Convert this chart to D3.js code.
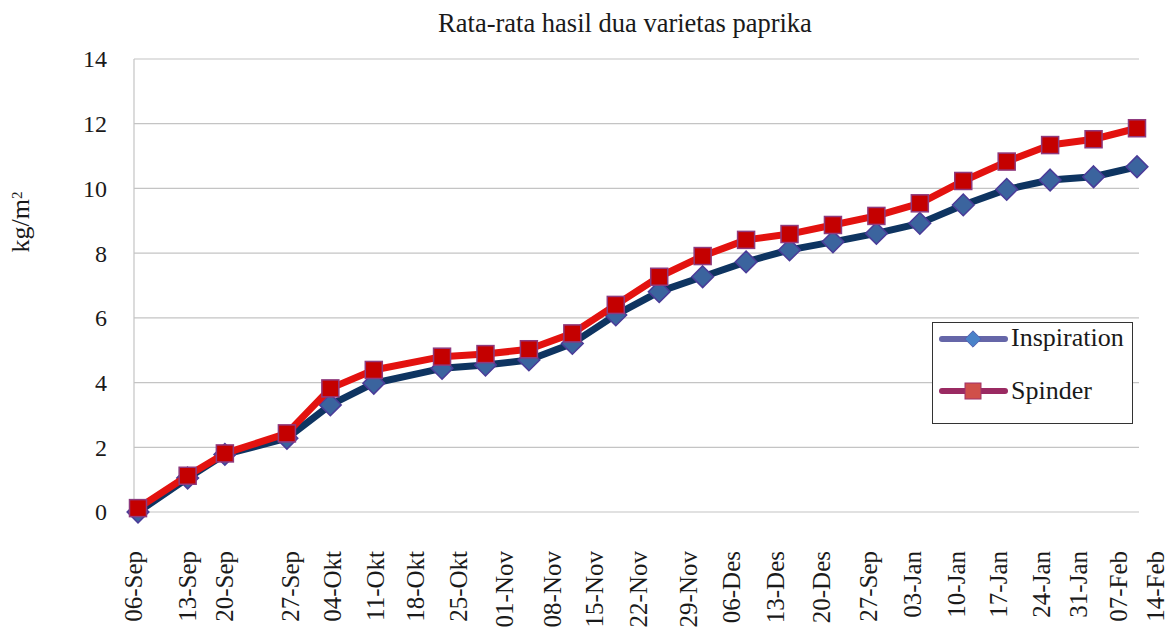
<!DOCTYPE html>
<html>
<head>
<meta charset="utf-8">
<script src="https://cdn.jsdelivr.net/npm/d3@7"></script>
<style>
  body { margin: 0; background: #fff; }
</style>
</head>
<body>
<svg id="chart" width="1171" height="634" font-family="'Liberation Serif', 'Times New Roman', Times, serif"></svg>
<script>
// days after 06-Sep for each harvest
const harvestDays = [0, 8, 14, 24, 31, 38, 49, 56, 63, 70, 77, 84, 91, 98, 105, 112, 119, 126, 133, 140, 147, 154, 161]
const inspiration = [0.0, 1.05, 1.78, 2.28, 3.31, 3.98, 4.44, 4.54, 4.70, 5.21, 6.09, 6.81, 7.27, 7.73, 8.10, 8.35, 8.61, 8.92, 9.49, 9.97, 10.26, 10.36, 10.67]
const spinder = [0.12, 1.12, 1.81, 2.43, 3.82, 4.39, 4.80, 4.88, 5.03, 5.52, 6.40, 7.27, 7.91, 8.41, 8.59, 8.87, 9.15, 9.54, 10.23, 10.83, 11.34, 11.52, 11.86]

// category labels as they sit under the chart (position in days)
const tickLabels = ["06-Sep", "13-Sep", "20-Sep", "27-Sep", "04-Okt", "11-Okt", "18-Okt", "25-Okt", "01-Nov", "08-Nov", "15-Nov", "22-Nov", "29-Nov", "06-Des", "13-Des", "20-Des", "27-Sep", "03-Jan", "10-Jan", "17-Jan", "24-Jan", "31-Jan", "07-Feb", "14-Feb"]
const tickDays = [-0.8, 7.9, 13.9, 24.5, 31.3, 38.2, 44.7, 51.6, 59.0, 66.8, 73.5, 80.6, 88.7, 95.6, 102.7, 110.1, 117.7, 124.7, 131.8, 138.7, 145.5, 151.6, 157.9, 164.0]
const yTicks = [0, 2, 4, 6, 8, 10, 12, 14]

const svg = d3.select("#chart")
const plot = {left: 134, right: 1139, top: 59, bottom: 512}

const x = d3.scaleLinear().domain([0, 161]).range([138, 1137])
const y = d3.scaleLinear().domain([0, 14]).range([plot.bottom, plot.top])

// title
svg.append("text")
  .attr("x", 625).attr("y", 32)
  .attr("text-anchor", "middle")
  .style("font-size", "26.5px")
  .style("fill", "#1a1a1a")
  .text("Rata-rata hasil dua varietas paprika")

// gridlines
svg.append("g")
  .selectAll("line")
  .data(yTicks)
  .join("line")
  .attr("x1", plot.left).attr("x2", plot.right)
  .attr("y1", d => y(d)).attr("y2", d => y(d))
  .style("stroke", "#c4c4c4")
  .style("stroke-width", 1.2)

svg.append("line")
  .attr("x1", plot.left).attr("x2", plot.left)
  .attr("y1", plot.top).attr("y2", plot.bottom)
  .style("stroke", "#c4c4c4")
  .style("stroke-width", 1.2)

// y tick labels
svg.append("g")
  .selectAll("text")
  .data(yTicks)
  .join("text")
  .attr("x", 107).attr("y", d => y(d))
  .attr("dy", "0.35em")
  .attr("text-anchor", "end")
  .style("font-size", "24px")
  .style("fill", "#1a1a1a")
  .text(d => d)

// y axis title
const yt = svg.append("text")
  .attr("transform", "translate(29,222) rotate(-90)")
  .attr("text-anchor", "middle")
  .style("font-size", "26px")
  .style("fill", "#1a1a1a")
yt.append("tspan").text("kg/m")
yt.append("tspan").attr("dy", "-0.5em").style("font-size", "15px").text("2")

// x labels
svg.append("g")
  .selectAll("text")
  .data(tickLabels)
  .join("text")
  .attr("transform", (d, i) => `translate(${x(tickDays[i])},551) rotate(-90)`)
  .attr("dy", "0.35em")
  .attr("text-anchor", "end")
  .style("font-size", "25px")
  .style("fill", "#1a1a1a")
  .text(d => d)

function series(vals, lineColor) {
  const pts = harvestDays.map((d, i) => [d, vals[i]])
  svg.append("path")
    .datum(pts)
    .attr("d", d3.line().x(d => x(d[0])).y(d => y(d[1])))
    .style("fill", "none")
    .style("stroke", lineColor)
    .style("stroke-width", 7)
    .style("stroke-linejoin", "round")
  return pts
}

const bluePts = series(inspiration, "#0e3461")
svg.append("g")
  .selectAll("path")
  .data(bluePts)
  .join("path")
  .attr("transform", d => `translate(${x(d[0])},${y(d[1])})`)
  .attr("d", d3.symbol(d3.symbolDiamond2, 300))
  .style("fill", "#3b649e")
  .style("stroke", "#4a3b98")
  .style("stroke-width", 1.5)

const redPts = series(spinder, "#e3120f")
svg.append("g")
  .selectAll("rect")
  .data(redPts)
  .join("rect")
  .attr("x", d => x(d[0]) - 8.5).attr("y", d => y(d[1]) - 8.5)
  .attr("width", 17).attr("height", 17)
  .style("fill", "#c40000")
  .style("stroke", "#8e3a7e")
  .style("stroke-width", 1.5)

// legend
const lg = svg.append("g")
lg.append("rect")
  .attr("x", 932.5).attr("y", 322.5).attr("width", 200).attr("height", 101)
  .style("fill", "#fff").style("stroke", "#333").style("stroke-width", 1)

lg.append("line")
  .attr("x1", 942).attr("x2", 1005).attr("y1", 339).attr("y2", 339)
  .style("stroke", "#6566a8").style("stroke-width", 6).style("stroke-linecap", "round")
lg.append("path")
  .attr("transform", "translate(973,339)")
  .attr("d", d3.symbol(d3.symbolDiamond2, 170))
  .style("fill", "#4a82c8").style("stroke", "#5560b0").style("stroke-width", 1)
lg.append("text").attr("x", 1011).attr("y", 346).style("font-size", "26px").style("fill", "#1a1a1a").text("Inspiration")

lg.append("line")
  .attr("x1", 942).attr("x2", 1005).attr("y1", 391).attr("y2", 391)
  .style("stroke", "#9a2a62").style("stroke-width", 6).style("stroke-linecap", "round")
lg.append("rect")
  .attr("x", 965).attr("y", 383).attr("width", 16).attr("height", 16)
  .style("fill", "#d0504a").style("stroke", "#a0306a").style("stroke-width", 1)
lg.append("text").attr("x", 1011).attr("y", 399).style("font-size", "26px").style("fill", "#1a1a1a").text("Spinder")
</script>
</body>
</html>
